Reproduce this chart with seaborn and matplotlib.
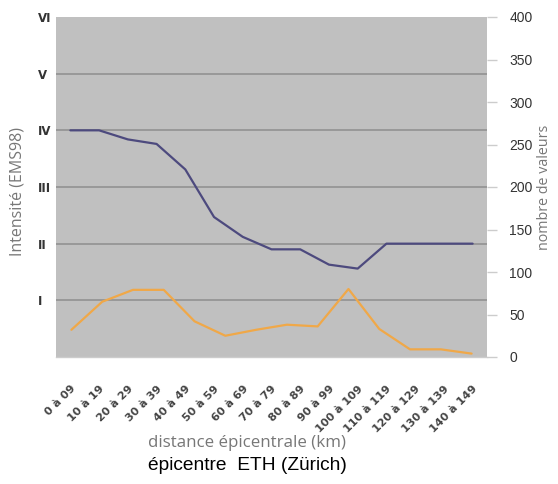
import matplotlib
matplotlib.use("Agg")
import matplotlib.pyplot as plt
import seaborn as sns
import numpy as np

# ---- data ----
categories = ["0 à 09", "10 à 19", "20 à 29", "30 à 39", "40 à 49", "50 à 59",
              "60 à 69", "70 à 79", "80 à 89", "90 à 99", "100 à 109",
              "110 à 119", "120 à 129", "130 à 139", "140 à 149"]
intensity = [4.0, 4.0, 3.84, 3.76, 3.31, 2.47, 2.12, 1.90, 1.90, 1.63, 1.56,
             2.0, 2.0, 2.0, 2.0]
counts = [32, 65, 79, 79, 42, 25, 32, 38, 36, 80, 33, 9, 9, 4]
roman_labels = ["I", "II", "III", "IV", "V", "VI"]
right_ticks = [0, 50, 100, 150, 200, 250, 300, 350, 400]

sns.set_style("white")
plt.rcParams['font.family'] = ['DejaVu Sans']

W, H = 558, 484
fig = plt.figure(figsize=(W / 100, H / 100), dpi=100)
fig.patch.set_facecolor("white")

L, R, T, B = 56, 487, 17, 357
pos = [L / W, 1 - B / H, (R - L) / W, (B - T) / H]
ax = fig.add_axes(pos)
ax.set_facecolor("#c0c0c0")

x1 = np.arange(len(categories))
sns.lineplot(x=x1, y=intensity, ax=ax, color="#4d4a7e", linewidth=1.6)
ax.set_xlim(-0.5, len(categories) - 0.5)
ax.set_ylim(0, 6)
ax.set_yticks(range(1, 7))
ax.set_yticklabels(roman_labels, fontweight="bold", fontsize=8.5,
                   color="#333333", ha="left")
for yv in range(1, 6):
    ax.axhline(yv, color="#8e8e8e", linewidth=1.1, zorder=0.5)
ax.set_xticks(x1)
ax.set_xticklabels(categories, rotation=45, ha="right", rotation_mode="anchor",
                   fontsize=8, fontweight="bold", color="#444444")
ax.set_xticks(np.arange(-0.5, len(categories)), minor=True)
ax.tick_params(axis="x", which="major", length=0, pad=19)
ax.tick_params(axis="x", which="minor", length=5, color="#cccccc", width=1)
ax.tick_params(axis="y", length=3, color="#cccccc", width=1, pad=10)
for s in ax.spines.values():
    s.set_visible(False)
ax.spines["bottom"].set_visible(True)
ax.spines["bottom"].set_color("#cccccc")
ax.spines["bottom"].set_linewidth(1)

# secondary series on its own category axis
ax2 = fig.add_axes(pos, frameon=False)
x2 = np.arange(len(counts))
sns.lineplot(x=x2, y=counts, ax=ax2, color="#f0a848", linewidth=1.6)
ax2.set_xlim(-0.5, len(counts) - 0.5)
ax2.set_ylim(0, 400)
ax2.set_xticks([])
ax2.yaxis.tick_right()
ax2.set_yticks(right_ticks)
ax2.set_yticklabels([str(v) for v in right_ticks], fontsize=10,
                    color="#333333", family=["Liberation Sans", "DejaVu Sans"])
ax2.tick_params(axis="y", which="major", length=7, color="#cccccc", width=1, pad=9)
ax2.set_xlabel("")
ax2.set_ylabel("")
ax.set_xlabel("")
ax.set_ylabel("")

fig.text(18 / W, 1 - 191 / H, "Intensité (EMS98)", rotation=90, ha="center",
         va="center", fontsize=11.5, color="#777777", family=["Open Sans", "DejaVu Sans"])
fig.text(545 / W, 1 - 187 / H, "nombre de valeurs", rotation=90, ha="center",
         va="center", fontsize=10.3, color="#777777", family=["Open Sans", "DejaVu Sans"])
fig.text(247 / W, 1 - 443 / H, "distance épicentrale (km)", ha="center",
         va="center", fontsize=12.2, color="#777777", family=["Open Sans", "DejaVu Sans"])
fig.text(247 / W, 1 - 466 / H, "épicentre  ETH (Zürich)", ha="center",
         va="center", fontsize=13.8, color="black", family=["Liberation Sans", "DejaVu Sans"])

fig.savefig("out.png", dpi=100)
